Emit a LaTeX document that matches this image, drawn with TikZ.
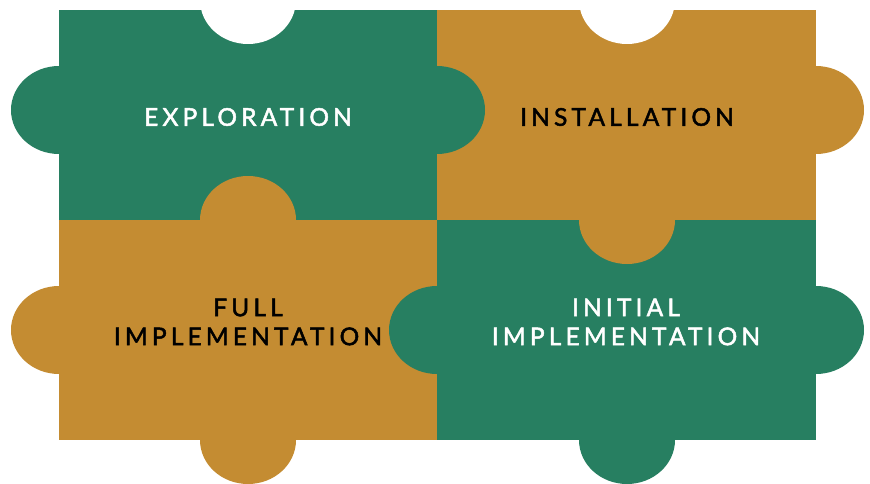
\documentclass[tikz,border=0pt]{standalone}
\usepackage{fontspec}
\setmainfont{Lato}
\newfontfamily\stagefont[LetterSpace=17,FakeBold=2]{Lato}
\definecolor{pieceGreen}{HTML}{277F61}
\definecolor{pieceGold}{HTML}{C48C32}

\begin{document}
\begin{tikzpicture}[x=1pt,y=-1pt,
  green piece/.style={fill=pieceGreen},
  gold piece/.style={fill=pieceGold},
  tab/.style={x radius=48,y radius=44},
  stage/.style={font=\stagefont\fontsize{24.5}{29}\selectfont,align=center,inner sep=0pt}]
  \useasboundingbox (0,0) rectangle (870,484);
   \coordinate (TopLeft) at (248,117);
   \coordinate (TopRight) at (627,117);
   \coordinate (BotLeft) at (248,322);
   \coordinate (BotRight) at (626,322);
  % the four squares
  \fill[green piece] (59,10) rectangle (437,220);
  \fill[gold piece] (437,10) rectangle (816,220);
  \fill[gold piece] (59,220) rectangle (437,440);
  \fill[green piece] (437,220) rectangle (816,440);
  % tabs, each one centred on the edge it crosses
  \fill[green piece] (59,110) ellipse[tab];
  \fill[green piece] (437,110) ellipse[tab];
  \fill[gold piece] (816,110) ellipse[tab];
  \fill[gold piece] (248,220) ellipse[tab];
  \fill[gold piece] (627,220) ellipse[tab];
  \fill[gold piece] (59,330) ellipse[tab];
  \fill[green piece] (437,330) ellipse[tab];
  \fill[green piece] (816,330) ellipse[tab];
  \fill[gold piece] (248,440) ellipse[tab];
  \fill[green piece] (627,440) ellipse[tab];
  % notches along the top
  \fill[white] (248,0) ellipse[tab];
  \fill[white] (627,0) ellipse[tab];
  % labels
  \node[stage,white] (explore) at (TopLeft) {EXPLORATION};
  \node[stage,black] (install) at (TopRight) {INSTALLATION};
  \node[stage,black] (fullimpl) at (BotLeft) {FULL\\IMPLEMENTATION};
  \node[stage,white] (initimpl) at (BotRight) {INITIAL\\IMPLEMENTATION};
\end{tikzpicture}
\end{document}
